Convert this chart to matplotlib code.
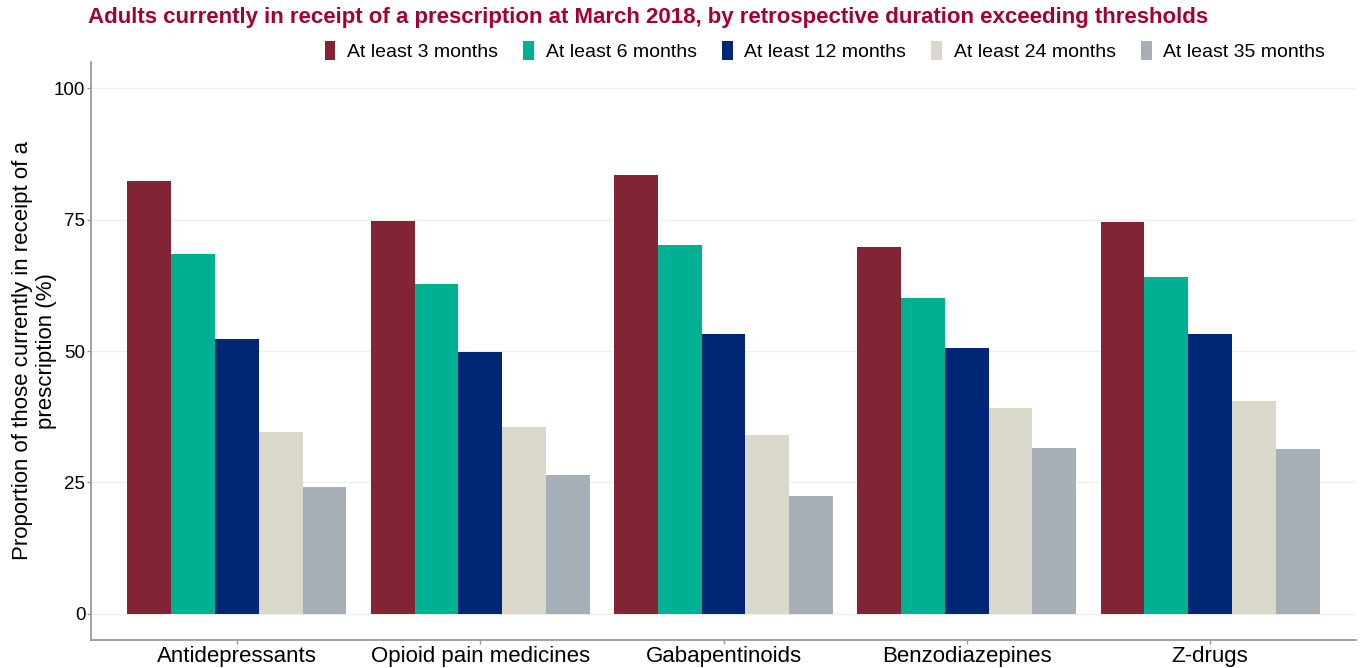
import matplotlib.pyplot as plt
import numpy as np

plt.rcParams['font.family'] = ['Liberation Sans', 'DejaVu Sans']

# Data
categories = ['Antidepressants', 'Opioid pain medicines', 'Gabapentinoids',
              'Benzodiazepines', 'Z-drugs']
series_names = ['At least 3 months', 'At least 6 months', 'At least 12 months',
                'At least 24 months', 'At least 35 months']
at_least_3 = [82.3, 74.8, 83.4, 69.7, 74.6]
at_least_6 = [68.4, 62.7, 70.1, 60.0, 64.0]
at_least_12 = [52.2, 49.9, 53.3, 50.5, 53.3]
at_least_24 = [34.6, 35.6, 34.0, 39.2, 40.5]
at_least_35 = [24.2, 26.4, 22.4, 31.6, 31.4]
yticks = [0, 25, 50, 75, 100]

colors = ['#822433', '#00B092', '#002776', '#D9D8CB', '#A5AFB5']
series = [at_least_3, at_least_6, at_least_12, at_least_24, at_least_35]

fig = plt.figure(figsize=(13.62, 6.68), dpi=100)
ax = fig.add_axes([91/1362, 28/668, (1356-91)/1362, (640-62)/668])

x = np.arange(len(categories))
group_w = 0.9
bar_w = group_w / len(series)
handles = []
for i, (vals, col, name) in enumerate(zip(series, colors, series_names)):
    offs = -group_w/2 + bar_w*(i + 0.5)
    b = ax.bar(x + offs, vals, width=bar_w, color=col, label=name, zorder=3)
    handles.append(b)

ax.set_xlim(-0.6, len(categories) - 0.4)
ax.set_ylim(-5, 105)
ax.set_yticks(yticks)
ax.set_yticklabels([str(t) for t in yticks], fontsize=13.5)
ax.set_xticks(x)
ax.set_xticklabels(categories, fontsize=16)
ax.grid(axis='y', color='#EFEFE6', linewidth=1, zorder=0)
for s in ['top', 'right']:
    ax.spines[s].set_visible(False)
for s in ['left', 'bottom']:
    ax.spines[s].set_color('#9A9A9A')
    ax.spines[s].set_linewidth(1.3)
ax.tick_params(axis='both', color='#9A9A9A', length=3, width=1)
ax.tick_params(axis='y', pad=1)
ax.tick_params(axis='x', pad=1)

ax.set_ylabel('Proportion of those currently in receipt of a\nprescription (%)',
              fontsize=16)
ax.yaxis.set_label_coords(-0.027, 0.5)

fig.text(88/1362, 1 - 18/668, 'Adults currently in receipt of a prescription at March 2018, '
         'by retrospective duration exceeding thresholds',
         color='#A50034', fontsize=16, fontweight='bold', va='center', ha='left')

leg = fig.legend(handles=handles, labels=series_names, loc='center',
                 bbox_to_anchor=(825/1362, 1 - 51/668), ncol=5, frameon=False,
                 fontsize=14, handlelength=0.55, handleheight=1.1,
                 handletextpad=0.6, columnspacing=1.3)

fig.savefig('out.png', dpi=100, facecolor='white')
